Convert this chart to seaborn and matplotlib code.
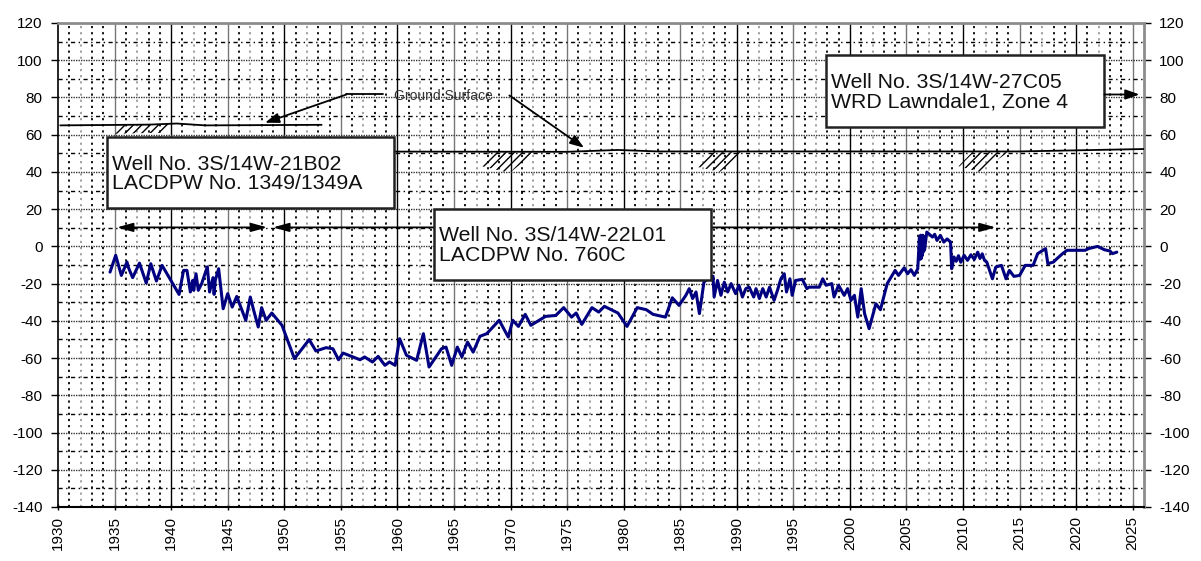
import numpy as np
import pandas as pd
import matplotlib
matplotlib.use("Agg")
import matplotlib.pyplot as plt
from matplotlib.patches import Rectangle, Polygon
import seaborn as sns

# ---------------- data ----------------
years = [1934.6, 1935.1, 1935.6, 1936.1, 1936.2, 1936.6, 1937.2, 1937.8, 1938.2, 1938.7,
         1939.2, 1940.7, 1941.1, 1941.4, 1941.7, 1941.9, 1942.0, 1942.2, 1942.4, 1942.7,
         1943.2, 1943.4, 1943.7, 1943.8, 1943.9, 1944.2, 1944.6, 1945.0, 1945.4, 1945.8,
         1946.1, 1946.6, 1947.0, 1947.3, 1947.7, 1948.0, 1948.4, 1948.9, 1949.8, 1950.9,
         1952.2, 1952.8, 1953.7, 1954.3, 1954.8, 1955.2, 1956.7, 1957.1, 1957.8, 1958.3,
         1958.9, 1959.3, 1959.8, 1960.2, 1960.8, 1961.7, 1962.3, 1962.8, 1963.9, 1964.3,
         1964.8, 1965.3, 1965.7, 1966.2, 1966.7, 1967.3, 1967.9, 1969.0, 1969.8, 1970.2,
         1970.7, 1971.3, 1971.8, 1973.1, 1974.0, 1974.7, 1975.4, 1975.8, 1976.3, 1977.2,
         1977.8, 1978.3, 1979.5, 1980.3, 1981.2, 1982.0, 1982.6, 1983.7, 1984.3, 1984.9,
         1985.5, 1985.8, 1986.1, 1986.4, 1986.7, 1987.1, 1987.5, 1987.9, 1988.0, 1988.3,
         1988.6, 1988.9, 1989.2, 1989.5, 1989.9, 1990.2, 1990.5, 1990.8, 1991.1, 1991.5,
         1991.7, 1992.0, 1992.3, 1992.6, 1992.9, 1993.3, 1993.6, 1993.9, 1994.2, 1994.4,
         1994.7, 1994.9, 1995.2, 1995.8, 1996.2, 1996.4, 1997.3, 1997.6, 1997.9, 1998.4,
         1998.6, 1999.0, 1999.5, 1999.8, 2000.1, 2000.4, 2000.7, 2001.0, 2001.3, 2001.7,
         2002.3, 2002.7, 2003.3, 2004.0, 2004.3, 2004.8, 2005.1, 2005.4, 2005.7, 2006.0,
         2006.15, 2006.2, 2006.25, 2006.3, 2006.35, 2006.4, 2006.45, 2006.5, 2006.55, 2006.6,
         2006.8, 2007.3, 2007.5, 2007.7, 2008.0, 2008.3, 2008.6, 2008.9, 2009.0, 2009.2,
         2009.4, 2009.6, 2009.8, 2010.1, 2010.4, 2010.7, 2011.0, 2011.3, 2011.5, 2011.7,
         2011.9, 2012.1, 2012.6, 2012.9, 2013.4, 2013.8, 2014.1, 2014.5, 2015.0, 2015.5,
         2016.2, 2016.6, 2017.3, 2017.5, 2018.0, 2018.3, 2018.8, 2019.2, 2020.8, 2021.1,
         2021.9, 2022.5, 2023.0, 2023.2, 2023.6]
levels = [-13.8, -4.8, -15.6, -8.4, -11.0, -16.8, -9.0, -19.7, -9.3, -18.6,
          -10.2, -25.8, -12.9, -12.9, -24.5, -18.3, -23.6, -14.7, -23.6, -20.0,
          -11.0, -24.5, -16.8, -25.8, -18.3, -12.0, -33.5, -25.4, -32.6, -26.9,
          -31.7, -39.7, -27.2, -34.4, -43.3, -32.9, -39.7, -35.8, -42.4, -60.3,
          -50.1, -56.2, -54.4, -55.0, -60.9, -57.3, -60.9, -59.4, -62.1, -59.1,
          -63.9, -62.1, -63.9, -49.6, -58.5, -61.2, -46.9, -64.8, -55.0, -54.1,
          -63.9, -54.1, -59.4, -51.4, -56.8, -48.3, -46.9, -39.7, -48.7, -39.7,
          -43.0, -36.5, -42.4, -37.6, -37.1, -32.9, -38.0, -35.8, -41.9, -32.9,
          -35.3, -32.2, -35.8, -43.0, -32.9, -34.0, -36.5, -38.0, -27.6, -31.7,
          -26.3, -22.7, -28.0, -24.5, -36.1, -19.2, -17.0, -16.0, -27.2, -18.3,
          -26.3, -19.2, -24.5, -20.0, -25.4, -20.9, -27.2, -22.7, -21.9, -27.2,
          -22.7, -28.0, -22.7, -27.2, -21.9, -29.0, -23.6, -17.4, -14.7, -24.5,
          -17.4, -26.3, -18.3, -17.7, -22.7, -21.9, -21.9, -17.4, -20.9, -20.0,
          -27.2, -20.9, -26.3, -22.7, -29.0, -26.3, -38.0, -22.7, -36.1, -44.2,
          -30.8, -34.0, -20.0, -12.9, -15.6, -11.5, -14.7, -12.5, -15.6, -12.0,
          5.0, -7.0, 6.0, -6.6, 5.5, -5.0, 6.0, -3.0, 5.0, -2.0,
          7.7, 5.0, 6.5, 3.2, 5.9, 2.3, 4.0, 2.3, -12.0, -5.7,
          -8.0, -5.0, -8.5, -4.8, -7.5, -4.5, -7.0, -3.1, -6.5, -4.0,
          -7.5, -8.4, -17.4, -11.1, -10.2, -17.4, -12.9, -16.1, -15.6, -10.2,
          -10.2, -3.9, -1.2, -9.3, -8.4, -6.6, -3.9, -2.1, -2.1, -1.2,
          0.0, -1.8, -2.5, -3.9, -3.1]

# ground surface traces
gs1_years = [1930.2, 1938.0, 1940.5, 1943.0, 1953.3]
gs1_vals = [65.0, 65.4, 66.0, 65.0, 65.3]
gs2_years = [1948.0, 1975.0, 1979.5, 1983.0, 2015.0, 2026.0]
gs2_vals = [51.0, 50.8, 51.8, 51.0, 51.0, 52.3]

x_tick_labels = [str(y) for y in range(1930, 2026, 5)]
y_tick_labels = [str(v) for v in range(-140, 121, 20)]

box_texts = ["Well No. 3S/14W-21B02\nLACDPW No. 1349/1349A",
             "Well No. 3S/14W-22L01\nLACDPW No. 760C",
             "Well No. 3S/14W-27C05\nWRD Lawndale1, Zone 4"]
gs_label = "Ground Surface"

# ---------------- style ----------------
sns.set_theme(style="white")
plt.rcParams['font.family'] = ['Liberation Sans', 'DejaVu Sans']
plt.rcParams['hatch.linewidth'] = 1.0

fig = plt.figure(figsize=(12.01, 5.61), dpi=100)
ax = fig.add_axes([58/1201, 1-507/561, (1144-58)/1201, (507-23)/561])

df = pd.DataFrame({"year": years, "level": levels})
sns.lineplot(data=df, x="year", y="level", ax=ax, color="#000080", lw=2.2,
             estimator=None, sort=False, zorder=5)

ax.set_xlim(1930, 2026)
ax.set_ylim(-140, 120)
ax.set_xticks(range(1930, 2026, 5))
ax.set_xticklabels(x_tick_labels, rotation=90, fontsize=11)
ax.set_xticks(range(1930, 2027), minor=True)
ax.set_yticks(range(-140, 121, 20))
ax.set_yticklabels(y_tick_labels, fontsize=11)
ax.set_yticks(range(-140, 121, 10), minor=True)
ax.set_xlabel("")
ax.set_ylabel("")
ax.tick_params(axis='y', which='major', left=True, right=True, labelleft=True,
               labelright=True, length=5, width=1, direction='out', pad=6,
               colors='black', labelsize=11)
ax.tick_params(axis='x', which='major', bottom=True, length=5, width=1,
               direction='inout', pad=4, colors='black', labelsize=11)
ax.tick_params(which='minor', length=0)

# grid
ax.grid(False)
for yr in range(1931, 2026):
    if yr % 5 == 0:
        continue
    c = '#9a9a9a' if yr % 5 in (2,) else 'black'
    ax.axvline(yr, color=c, lw=1.3, ls=(0, (1.2, 2.2)), zorder=1)
for i, yr in enumerate(range(1935, 2026, 5)):
    ax.axvline(yr, color='#777777' if i % 2 == 0 else 'black', lw=1.0, zorder=1)
for v in range(-130, 120, 10):
    if v % 20 == 0:
        ax.axhline(v, color='#333333', lw=1.0, ls=(0, (1, 0.8)), zorder=1)
    else:
        ax.axhline(v, color='black', lw=1.0, ls=(0, (3, 2.5, 1, 2.5)), zorder=1)

for s in ['top', 'right']:
    ax.spines[s].set_color('#8c8c8c')
    ax.spines[s].set_linewidth(2.0)
ax.spines['left'].set_color('black')
ax.spines['left'].set_linewidth(1.2)
ax.spines['bottom'].set_color('black')
ax.spines['bottom'].set_linewidth(1.5)

# ground surfaces
ax.plot(gs1_years, gs1_vals, color='black', lw=1.3, zorder=3)
ax.plot(gs2_years, gs2_vals, color='black', lw=1.3, zorder=3)
hatches = [
    [(1935.5, 65.0), (1940.2, 65.9), (1939.0, 61.0), (1935.0, 60.5)],
    [(1968.1, 50.6), (1972.3, 50.6), (1969.9, 39.5), (1967.5, 43.0)],
    [(1987.5, 50.6), (1990.8, 50.6), (1988.5, 40.0), (1986.3, 43.0)],
    [(2010.8, 50.6), (2014.0, 50.6), (2011.5, 40.0), (2009.6, 43.0)],
]
for poly in hatches:
    ax.add_patch(Polygon(poly, closed=True, facecolor='none', edgecolor='black',
                         hatch='////', lw=0, zorder=2))

# ground surface label and arrows
ax.text(1964.1, 81.0, gs_label, fontsize=10, ha='center', va='center',
        color='#333333', zorder=6)
ax.plot([1958.7, 1955.5], [81.6, 81.6], color='black', lw=1.3, zorder=6)
ax.annotate("", xy=(1948.3, 66.4), xytext=(1955.5, 81.6),
            arrowprops=dict(arrowstyle='-|>,head_length=0.7,head_width=0.25',
                            color='black', lw=1.3, shrinkA=0, shrinkB=0), zorder=6)
ax.annotate("", xy=(1976.5, 53.0), xytext=(1969.9, 81.1),
            arrowprops=dict(arrowstyle='-|>,head_length=0.7,head_width=0.25',
                            color='black', lw=1.3, shrinkA=0, shrinkB=0), zorder=6)

# period arrows
for (x0, x1) in [(1935.2, 1948.5), (1949.0, 2012.9)]:
    ax.annotate("", xy=(x1, 10.2), xytext=(x0, 10.2),
                arrowprops=dict(arrowstyle='<|-|>,head_length=0.8,head_width=0.22',
                                color='black', lw=1.3, shrinkA=0, shrinkB=0), zorder=4)

# label boxes
boxes = [(1934.3, 20.4, 1959.7, 58.5),
         (1963.2, -18.3, 1987.7, 19.9),
         (1997.9, 63.9, 2022.5, 102.6)]
for (x0, y0, x1, y1), txt in zip(boxes, box_texts):
    ax.add_patch(Rectangle((x0, y0), x1 - x0, y1 - y0, facecolor='white',
                           edgecolor='#222222', lw=1.8, zorder=7))
    ax.text(x0 + 0.45, (y0 + y1) / 2 - 0.5, txt, fontsize=15.3, ha='left',
            va='center', linespacing=1.05, color='#111111', zorder=8)

ax.annotate("", xy=(2025.6, 81.6), xytext=(2022.5, 81.6),
            arrowprops=dict(arrowstyle='-|>,head_length=0.7,head_width=0.25',
                            color='black', lw=1.3, shrinkA=0, shrinkB=0), zorder=8)

fig.savefig("out.png", dpi=100)
